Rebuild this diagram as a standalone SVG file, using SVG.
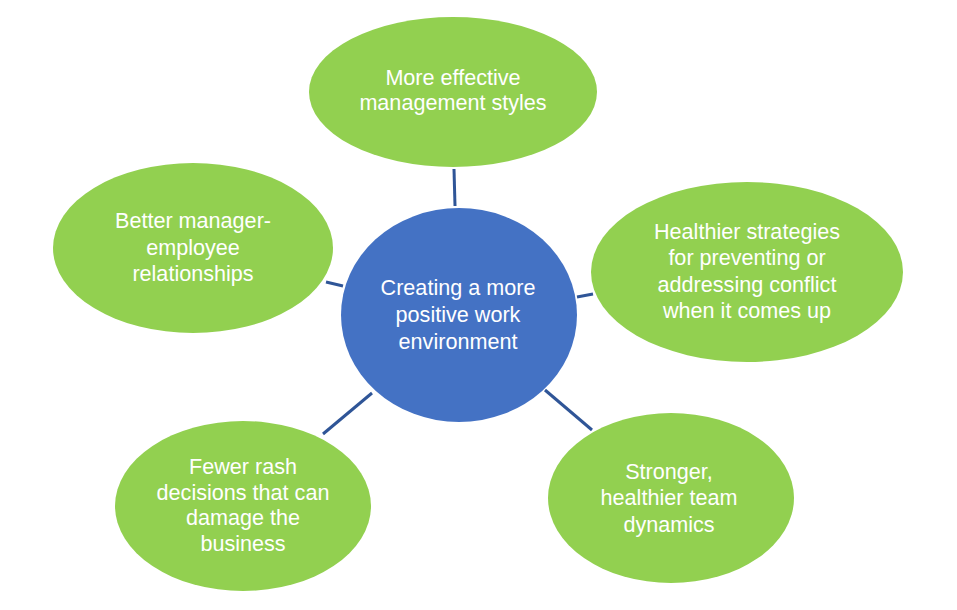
<svg xmlns="http://www.w3.org/2000/svg" width="957" height="610" viewBox="0 0 957 610">
<style>
.leaf{fill:#92D050}
.hub{fill:#4472C4}
.lbl{fill:#FFFFFF;font-family:"Liberation Sans",Arial,sans-serif;font-size:21.6px;text-anchor:middle}
.conn line{stroke:#2F5597;stroke-width:3}
</style>
<rect width="957" height="610" fill="#FFFFFF"/>
<g id="connectors" class="conn">
<line x1="454" y1="169" x2="455" y2="206"/>
<line x1="326" y1="282" x2="343" y2="286"/>
<line x1="577" y1="297" x2="593" y2="294"/>
<line x1="323" y1="434" x2="372" y2="393"/>
<line x1="545" y1="390" x2="592" y2="430"/>
</g>
<g id="node-top">
<ellipse class="leaf" cx="453" cy="92" rx="144" ry="75"/>
<text class="lbl"><tspan x="453" y="85">More effective</tspan><tspan x="453" y="110">management styles</tspan></text>
</g>
<g id="node-left">
<ellipse class="leaf" cx="193" cy="248" rx="140" ry="85"/>
<text class="lbl"><tspan x="193" y="228">Better manager-</tspan><tspan x="193" y="255">employee</tspan><tspan x="193" y="281">relationships</tspan></text>
</g>
<g id="node-right">
<ellipse class="leaf" cx="747" cy="272" rx="156" ry="90"/>
<text class="lbl"><tspan x="747" y="239">Healthier strategies</tspan><tspan x="747" y="265">for preventing or</tspan><tspan x="747" y="292">addressing conflict</tspan><tspan x="747" y="318">when it comes up</tspan></text>
</g>
<g id="node-bottom-left">
<ellipse class="leaf" cx="243" cy="506" rx="128" ry="85"/>
<text class="lbl"><tspan x="243" y="474">Fewer rash</tspan><tspan x="243" y="500">decisions that can</tspan><tspan x="243" y="525">damage the</tspan><tspan x="243" y="551">business</tspan></text>
</g>
<g id="node-bottom-right">
<ellipse class="leaf" cx="671" cy="498" rx="123" ry="85"/>
<text class="lbl"><tspan x="669" y="479">Stronger,</tspan><tspan x="669" y="505">healthier team</tspan><tspan x="669" y="532">dynamics</tspan></text>
</g>
<g id="node-center">
<ellipse class="hub" cx="459" cy="315" rx="118" ry="107"/>
<text class="lbl"><tspan x="458" y="295">Creating a more</tspan><tspan x="458" y="322">positive work</tspan><tspan x="458" y="349">environment</tspan></text>
</g>
</svg>
